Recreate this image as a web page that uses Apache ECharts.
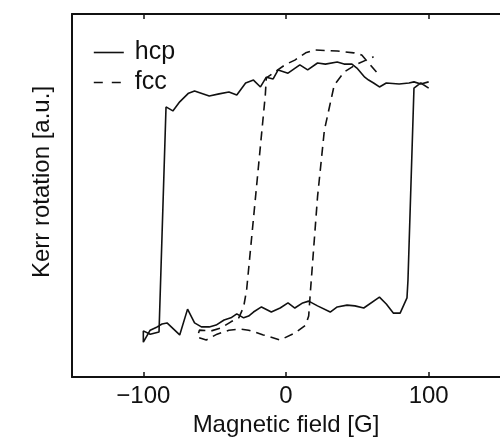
<!DOCTYPE html>
<html>
<head>
<meta charset="utf-8">
<script src="https://cdn.jsdelivr.net/npm/echarts@6/dist/echarts.min.js"></script>
<style>html,body{margin:0;padding:0;background:#fff}#c{width:500px;height:444px}</style>
</head>
<body>
<div id="c"></div>
<script>
// Magnetic field [G] and Kerr rotation [a.u.] along the field sweep (+100 -> -100 -> +100)
const hcpField = [100.0, 94.5, 89.7, 86.2, 79.3, 70.3, 65.5, 61.4, 57.9, 55.2, 49.7, 46.2, 40.7, 35.9, 27.6, 22.1, 15.2, 9.7, 1.4, -5.5, -9.0, -13.8, -17.9, -22.8, -28.3, -34.5, -40.0, -46.9, -53.8, -64.1, -68.3, -74.5, -79.3, -84.1, -89.0, -95.2, -100.0,
  -100.0, -95.2, -90.3, -86.9, -83.4, -74.5, -69.0, -64.1, -59.3, -53.8, -49.0, -43.4, -38.6, -34.5, -29.7, -26.2, -22.8, -17.2, -10.3, -4.1, 1.4, 6.2, 11.7, 15.9, 22.1, 31.0, 35.9, 42.8, 48.3, 54.5, 65.5, 70.3, 75.2, 80.0, 84.8, 85.5, 89.7, 94.5, 100.0];
const hcpKerr = [81.3, 80.7, 81.3, 81.0, 80.7, 81.0, 79.9, 81.0, 81.8, 82.6, 85.1, 86.2, 86.2, 86.8, 86.2, 86.5, 84.6, 86.0, 83.7, 84.6, 82.1, 82.6, 79.9, 81.8, 81.0, 77.7, 78.5, 78.0, 77.4, 78.8, 78.2, 75.8, 73.3, 74.4, 12.4, 11.8, 12.7,
  9.6, 12.9, 13.8, 14.6, 14.9, 11.6, 18.7, 14.9, 13.8, 13.8, 14.3, 15.7, 16.3, 17.4, 16.3, 16.8, 17.9, 19.3, 17.9, 19.0, 20.4, 19.0, 20.4, 20.9, 19.6, 17.9, 19.3, 19.8, 19.6, 19.0, 22.0, 20.1, 17.6, 17.6, 21.8, 26.7, 79.6, 81.0, 79.6];

const fccField = [63.4, 53.1, 47.6, 35.9, 20.0, 13.8, 6.2, -0.7, -9.0, -13.8, -14.5, -27.6, -29.7, -33.1, -38.6, -45.5, -52.4, -60.7,
  -62.1, -55.9, -48.3, -40.0, -31.7, -26.2, -15.9, -4.1, 6.2, 13.8, 15.9, 17.2, 22.1, 26.9, 33.8, 40.7, 49.7, 61.4];
const fccKerr = [84.0, 88.7, 89.3, 89.8, 90.1, 89.3, 87.3, 86.0, 83.7, 82.4, 77.7, 24.0, 19.3, 16.3, 15.2, 13.5, 12.7, 12.9,
  11.0, 10.2, 11.8, 12.9, 13.2, 12.9, 11.6, 10.2, 12.1, 14.3, 16.8, 24.0, 49.6, 68.0, 80.4, 84.0, 86.2, 88.2];

const seriesNames = ['hcp', 'fcc'];
const xTicks = [-100, 0, 100];
const xLabelText = 'Magnetic field [G]';
const yLabelText = 'Kerr rotation [a.u.]';

const zip = (a, b) => a.map((v, i) => [v, b[i]]);
const FONT = 'Liberation Sans';
const INK = '#111';

const chart = echarts.init(document.getElementById('c'), null, {renderer: 'canvas'});
chart.setOption({
  animation: false,
  backgroundColor: '#fff',
  textStyle: {fontFamily: FONT, color: INK},
  grid: {left: 72, top: 14, width: 433, height: 363},
  legend: {
    orient: 'vertical', left: 93, top: 40, padding: 0,
    itemWidth: 30, itemHeight: 14, itemGap: 5,
    itemStyle: {opacity: 0},
    data: [
      {name: seriesNames[0], lineStyle: {type: 'solid', width: 1.6}},
      {name: seriesNames[1], lineStyle: {type: [9, 9], width: 1.6}}
    ],
    textStyle: {fontFamily: FONT, fontSize: 25, color: INK, lineHeight: 24, padding: [0, 0, 0, 6]}
  },
  graphic: [{
    type: 'text', x: 42, y: 182, rotation: Math.PI / 2,
    style: {text: yLabelText, fontFamily: FONT, fontSize: 24, fill: INK, align: 'center', verticalAlign: 'middle'}
  }],
  xAxis: [{
    type: 'value', min: -150, max: 150, position: 'bottom',
    name: xLabelText, nameLocation: 'middle', nameGap: 36,
    nameTextStyle: {fontFamily: FONT, fontSize: 24, color: INK},
    axisLine: {show: true, onZero: false, lineStyle: {color: INK, width: 2}},
    axisTick: {show: true, inside: true, length: 5, customValues: xTicks, lineStyle: {color: INK, width: 1.5}},
    axisLabel: {show: true, margin: 7, fontFamily: FONT, fontSize: 24, color: INK, customValues: xTicks,
      formatter: v => String(v).replace('-', '\u2212')},
    splitLine: {show: false}
  }, {
    type: 'value', min: -150, max: 150, position: 'top',
    axisLine: {show: true, onZero: false, lineStyle: {color: INK, width: 2}},
    axisTick: {show: true, inside: true, length: 5, customValues: xTicks, lineStyle: {color: INK, width: 1.5}},
    axisLabel: {show: false},
    splitLine: {show: false}
  }],
  yAxis: {
    type: 'value', min: 0, max: 100,
    axisLine: {show: true, onZero: false, lineStyle: {color: INK, width: 2}},
    axisTick: {show: false}, axisLabel: {show: false}, splitLine: {show: false}
  },
  series: [{
    name: seriesNames[0], type: 'line', data: zip(hcpField, hcpKerr),
    symbol: 'none', color: INK,
    lineStyle: {color: INK, width: 1.6, type: 'solid'}
  }, {
    name: seriesNames[1], type: 'line', data: zip(fccField, fccKerr),
    symbol: 'none', color: INK,
    lineStyle: {color: INK, width: 1.6, type: [9, 6]}
  }]
});
</script>
</body>
</html>
